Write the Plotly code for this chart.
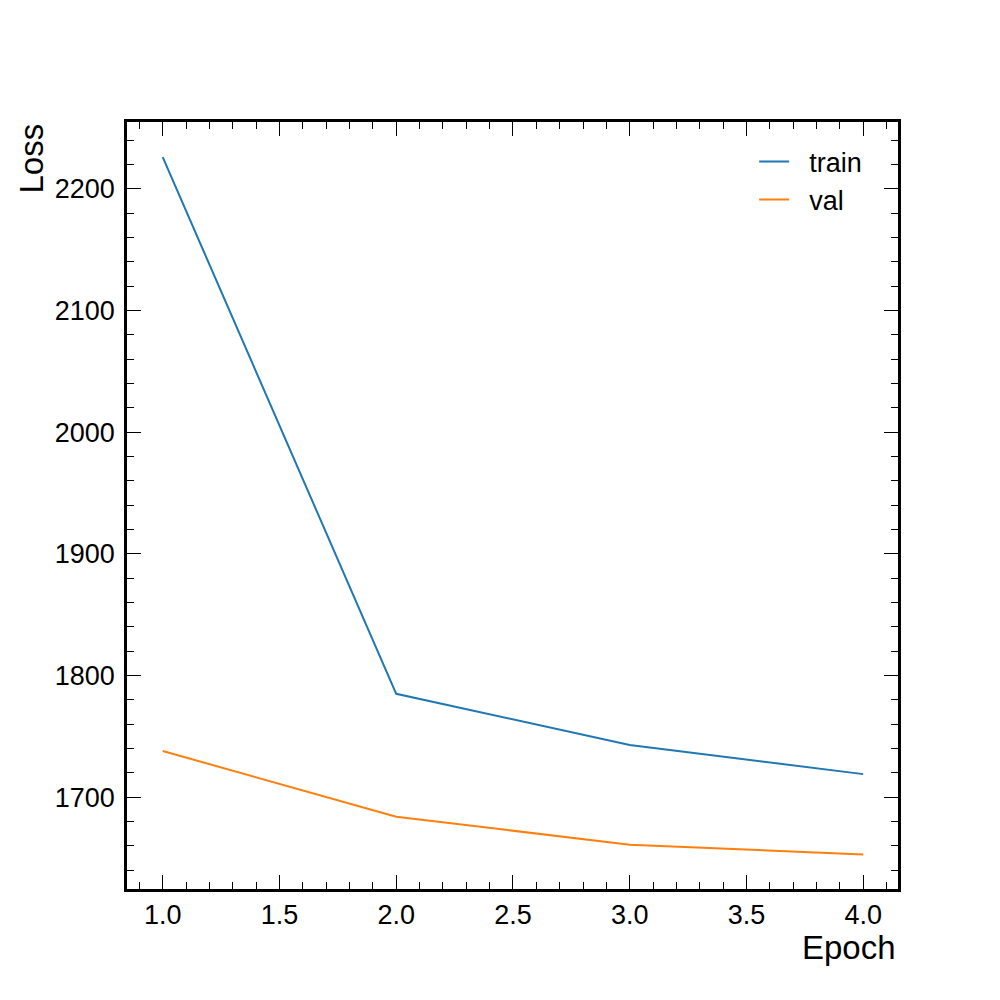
import plotly.graph_objects as go

epochs = [1, 2, 3, 4]
train_loss = [2226, 1785, 1743, 1719]
val_loss = [1738, 1684, 1661, 1653]

fig = go.Figure()
fig.add_trace(go.Scatter(x=epochs, y=train_loss, mode="lines", name="  train",
                         line=dict(color="#1f77b4", width=2)))
fig.add_trace(go.Scatter(x=epochs, y=val_loss, mode="lines", name="  val",
                         line=dict(color="#ff7f0e", width=2)))

axis_common = dict(showline=True, linecolor="black", linewidth=2.5, mirror="allticks",
                   ticks="inside", ticklen=14, tickwidth=1.2, tickcolor="black",
                   showgrid=False, zeroline=False,
                   tickfont=dict(size=27, color="black"))

fig.update_xaxes(range=[0.847, 4.149], tickvals=[1.0, 1.5, 2.0, 2.5, 3.0, 3.5, 4.0],
                 ticktext=["1.0", "1.5", "2.0", "2.5", "3.0", "3.5", "4.0"],
                 minor=dict(ticks="inside", ticklen=7, tickcolor="black", dtick=0.1),
                 **axis_common)
fig.update_yaxes(range=[1624.6, 2254.9], dtick=100, ticklabelstandoff=4,
                 minor=dict(ticks="inside", ticklen=7, tickcolor="black", dtick=20),
                 **axis_common)

fig.update_layout(
    width=1000, height=1000,
    margin=dict(l=119, r=110, t=114, b=119),
    paper_bgcolor="white", plot_bgcolor="white",
    font=dict(family="Liberation Sans, Arial, sans-serif", color="black"),
    legend=dict(x=0.96, y=0.98, xanchor="right", yanchor="top",
                bgcolor="rgba(0,0,0,0)", font=dict(size=27)),
    annotations=[
        dict(text="Epoch", x=1, y=0, xref="paper", yref="paper", xanchor="right",
             yanchor="top", yshift=-38, showarrow=False, font=dict(size=33)),
        dict(text="Loss", x=0, y=1, xref="paper", yref="paper", xanchor="right",
             yanchor="top", xshift=-76, textangle=-90, showarrow=False, font=dict(size=33)),
    ],
)

fig.write_html("out.html")
